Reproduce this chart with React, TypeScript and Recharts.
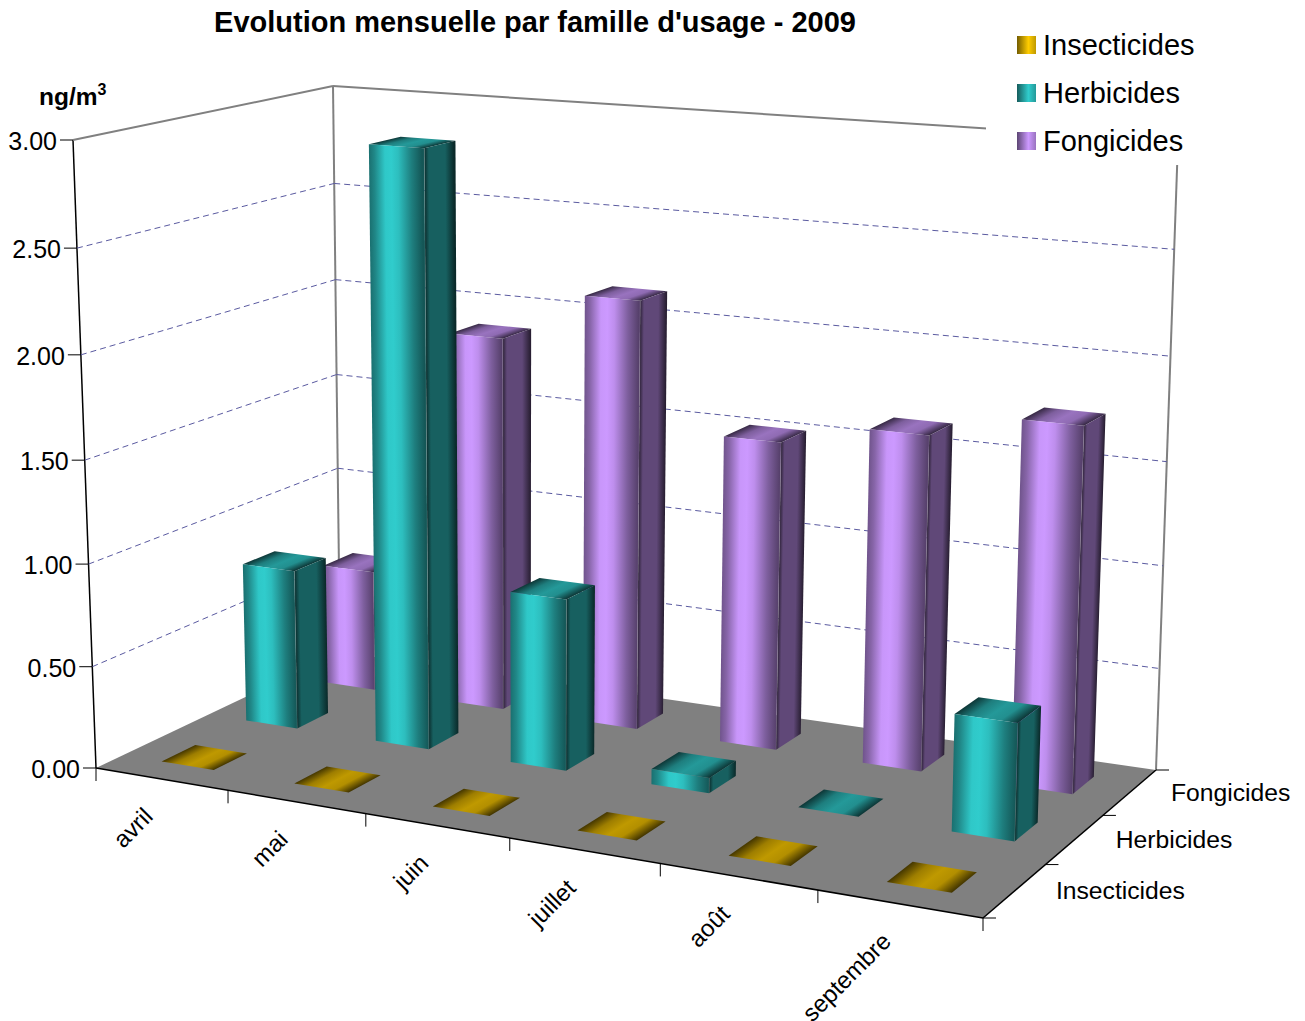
import React from "react";
import { BarChart, Bar, XAxis, YAxis, CartesianGrid, Legend } from "recharts";

const months = ["avril", "mai", "juin", "juillet", "août", "septembre"];
const insecticides = [0, 0, 0, 0, 0, 0];
const herbicides = [0.8, 2.92, 0.84, 0.075, 0, 0.55];
const fongicides = [0.62, 1.89, 2.14, 1.52, 1.63, 1.75];
const familyNames = ["Insecticides", "Herbicides", "Fongicides"];
const yTicks = [0, 0.5, 1, 1.5, 2, 2.5, 3];

const rows = months.map((month, i) => ({
  month,
  Insecticides: insecticides[i],
  Herbicides: herbicides[i],
  Fongicides: fongicides[i],
}));

const WIDTH = 1305;
const HEIGHT = 1021;
const FONT = "'Liberation Sans', Arial, sans-serif";

// The flat chart area; its pixels are normalised and re-projected onto the box.
const PLOT = { left: 100, top: 100, width: 1100, height: 800 };

type Pt = [number, number];

// Screen corners of the box: front-left, front-right, back-right, back-left.
const floorCorners: Pt[] = [[96, 768], [983, 918], [1156, 770], [340, 652]];
const ceilingCorners: Pt[] = [[73, 140], [1001, 210], [1178, 141], [333, 86]];
const HEIGHT_WARP = 0.04;

function solve(A: number[][], b: number[]): number[] {
  const n = b.length;
  const m = A.map((r, i) => [...r, b[i]]);
  for (let c = 0; c < n; c++) {
    let p = c;
    for (let r = c + 1; r < n; r++) if (Math.abs(m[r][c]) > Math.abs(m[p][c])) p = r;
    [m[c], m[p]] = [m[p], m[c]];
    for (let r = 0; r < n; r++) {
      if (r === c) continue;
      const f = m[r][c] / m[c][c];
      for (let k = c; k <= n; k++) m[r][k] -= f * m[c][k];
    }
  }
  return m.map((r, i) => r[n] / r[i]);
}

function planeMap(corners: Pt[]) {
  const uv: Pt[] = [[0, 0], [1, 0], [1, 1], [0, 1]];
  const A: number[][] = [];
  const b: number[] = [];
  uv.forEach(([u, v], i) => {
    const [x, y] = corners[i];
    A.push([u, v, 1, 0, 0, 0, -x * u, -x * v]);
    b.push(x);
    A.push([0, 0, 0, u, v, 1, -y * u, -y * v]);
    b.push(y);
  });
  const [a, bb, c, d, e, f, g, h] = solve(A, b);
  return (u: number, v: number): Pt => {
    const w = g * u + h * v + 1;
    return [(a * u + bb * v + c) / w, (d * u + e * v + f) / w];
  };
}

const floorMap = planeMap(floorCorners);
const ceilingMap = planeMap(ceilingCorners);

const project = (u: number, v: number, t: number): Pt => {
  const p = floorMap(u, v);
  const q = ceilingMap(u, v);
  const s = t / (1 + HEIGHT_WARP * (1 - t));
  return [p[0] + (q[0] - p[0]) * s, p[1] + (q[1] - p[1]) * s];
};

const toPoints = (pts: Pt[]) => pts.map((p) => p.join(",")).join(" ");
const uOf = (x: number) => (x - PLOT.left) / PLOT.width;
const tOf = (y: number) => (PLOT.top + PLOT.height - y) / PLOT.height;

const palette = [
  { name: "Fongicides", rgb: [204, 153, 255], depth: 2 },
  { name: "Herbicides", rgb: [48, 204, 204], depth: 1 },
  { name: "Insecticides", rgb: [255, 204, 0], depth: 0 },
];

const shade = (rgb: number[], k: number) => `rgb(${rgb.map((c) => Math.round(c * k)).join(",")})`;

const frontStops: [number, number][] = [[0, 0.55], [0.1, 0.66], [0.3, 0.98], [0.42, 1], [0.55, 0.93], [0.8, 0.62], [1, 0.42]];
const sideStops: [number, number][] = [[0, 0.22], [0.15, 0.47], [0.7, 0.47], [1, 0.2]];
const topStops: [number, number][] = [[0, 0.27], [0.25, 0.62], [0.5, 0.75], [0.72, 0.7], [1, 0.25]];

// A quad filled with a gradient that follows its edges: q = [a, b, c, d], running a->b across.
function Face({ id, q, stops, rgb }: { id: string; q: Pt[]; stops: [number, number][]; rgb: number[] }) {
  const [a, b, , d] = q;
  const transform = `matrix(${b[0] - a[0]},${b[1] - a[1]},${d[0] - a[0]},${d[1] - a[1]},${a[0]},${a[1]})`;
  return (
    <g>
      <defs>
        <linearGradient id={id} gradientUnits="userSpaceOnUse" x1={0} y1={0} x2={1} y2={0} gradientTransform={transform}>
          {stops.map(([o, k]) => (
            <stop key={o} offset={o} stopColor={shade(rgb, k)} />
          ))}
        </linearGradient>
      </defs>
      <polygon points={toPoints(q)} fill={`url(#${id})`} />
    </g>
  );
}

const DEPTH_HALF = 0.065;

const prism = (series: (typeof palette)[number]) => (props: any) => {
  const { x, width, height, index } = props;
  const u0 = uOf(x);
  const u1 = uOf(x + width);
  const v0 = (series.depth + 0.5) / 3 - DEPTH_HALF;
  const v1 = (series.depth + 0.5) / 3 + DEPTH_HALF;
  const t = (height || 0) / PLOT.height;
  const key = `${series.name}-${index}`;
  const fl = project(u0, v0, 0);
  const fr = project(u1, v0, 0);
  const br = project(u1, v1, 0);
  const tfl = project(u0, v0, t);
  const tfr = project(u1, v0, t);
  const tbr = project(u1, v1, t);
  const tbl = project(u0, v1, t);
  const flat = t < 0.002;
  return (
    <g>
      <Face id={`top-${key}`} q={[tfl, tfr, tbr, tbl]} stops={topStops} rgb={series.rgb} />
      {!flat && <Face id={`side-${key}`} q={[fr, br, tbr, tfr]} stops={sideStops} rgb={series.rgb} />}
      {!flat && <Face id={`front-${key}`} q={[fl, fr, tfr, tfl]} stops={frontStops} rgb={series.rgb} />}
      {!flat && <line x1={fr[0]} y1={fr[1]} x2={tfr[0]} y2={tfr[1]} stroke="rgba(255,255,255,0.2)" strokeWidth={0.6} />}
    </g>
  );
};

const seg = (a: Pt, b: Pt, stroke: string, strokeWidth: number, dash?: string) => (
  <line x1={a[0]} y1={a[1]} x2={b[0]} y2={b[1]} stroke={stroke} strokeWidth={strokeWidth} strokeDasharray={dash} />
);

// Box walls, floor and value lines: each horizontal grid position is bent along the two walls.
const wallLine = (p: any) => {
  const t = tOf(p.y1);
  const key = p.key ?? `w-${t}`;
  if (t < 0.001) {
    const a = project(0, 0, 0);
    const b = project(1, 0, 0);
    const c = project(1, 1, 0);
    const d = project(0, 1, 0);
    return (
      <g key={key}>
        <polygon points={toPoints([a, b, c, d])} fill="#808080" />
        {seg(a, b, "#000", 1.5)}
        {seg(b, c, "#000", 1.5)}
        {seg(a, project(0, 0, 1), "#000", 1.5)}
        {seg(d, project(0, 1, 1), "#808080", 2)}
        {seg(c, project(1, 1, 1), "#808080", 2)}
      </g>
    );
  }
  const a = project(0, 0, t);
  const b = project(0, 1, t);
  const c = project(1, 1, t);
  const isTop = t > 0.999;
  return (
    <g key={key}>
      {seg(a, b, isTop ? "#808080" : "#5a5aa0", isTop ? 2 : 1, isTop ? undefined : "6 4")}
      {seg(b, c, isTop ? "#808080" : "#5a5aa0", isTop ? 2 : 1, isTop ? undefined : "6 4")}
    </g>
  );
};

const ValueTick = (props: any) => {
  const t = tOf(props.y);
  const [x, y] = project(0, 0, t);
  return (
    <g>
      <line x1={x - 13} y1={y} x2={x} y2={y} stroke="#000" strokeWidth={1} />
      <text x={x - 16} y={y + 1} textAnchor="end" dominantBaseline="central" fontFamily={FONT} fontSize={25} fill="#000">
        {Number(props.payload.value).toFixed(2)}
      </text>
    </g>
  );
};

const MonthTick = (props: any) => {
  const slot = 1 / months.length;
  const u = uOf(props.x);
  const start = project(u - slot / 2, 0, 0);
  const end = project(u + slot / 2, 0, 0);
  const mid = project(u, 0, 0);
  const lx = mid[0] - 13;
  const ly = mid[1] + 33;
  return (
    <g>
      <line x1={start[0]} y1={start[1]} x2={start[0]} y2={start[1] + 13} stroke="#000" strokeWidth={1} />
      {props.index === months.length - 1 && (
        <line x1={end[0]} y1={end[1]} x2={end[0]} y2={end[1] + 13} stroke="#000" strokeWidth={1} />
      )}
      <text x={lx} y={ly} textAnchor="end" dominantBaseline="central" fontFamily={FONT} fontSize={24} fill="#000" transform={`rotate(-45 ${lx} ${ly})`}>
        {props.payload.value}
      </text>
    </g>
  );
};

const FamilyLegend = (props: any) => {
  const items = [...(props.payload ?? [])].reverse();
  return (
    <div style={{ background: "#fff", width: 214, height: 145, position: "relative" }}>
      {items.map((it: any, i: number) => {
        const s = palette.find((p) => p.name === it.value)!;
        return (
          <div key={it.value} style={{ position: "absolute", left: 31, top: 1 + i * 48, height: 48, display: "flex", alignItems: "center", fontFamily: FONT, fontSize: 29, color: "#000", lineHeight: "48px" }}>
            <span style={{ width: 19, height: 18, marginRight: 7, display: "inline-block", background: `linear-gradient(90deg, ${shade(s.rgb, 0.45)}, ${shade(s.rgb, 1)} 60%, ${shade(s.rgb, 0.75)})` }} />
            {it.value}
          </div>
        );
      })}
    </div>
  );
};

export default function App() {
  const axisThickness = 1;
  const plotRight = WIDTH - PLOT.left - PLOT.width;
  const plotBottom = HEIGHT - PLOT.top - PLOT.height;
  return (
    <div style={{ position: "absolute", left: 0, top: 0, width: WIDTH, height: HEIGHT, overflow: "hidden", background: "#fff" }}>
      <BarChart
        width={WIDTH}
        height={HEIGHT}
        data={rows}
        margin={{ left: PLOT.left - axisThickness, top: PLOT.top, right: plotRight, bottom: plotBottom - axisThickness }}
        barCategoryGap="30%"
        barGap="-40%"
      >
        <CartesianGrid vertical={false} horizontal={wallLine} stroke="none" />
        <XAxis dataKey="month" height={axisThickness} interval={0} axisLine={false} tickLine={false} tick={MonthTick} />
        <YAxis type="number" domain={[0, 3]} ticks={yTicks} width={axisThickness} interval={0} axisLine={false} tickLine={false} tick={ValueTick} />
        {palette.map((s) => (
          <Bar key={s.name} dataKey={s.name} fill={shade(s.rgb, 1)} isAnimationActive={false} shape={prism(s)} />
        ))}
        <Legend
          layout="vertical"
          align="center"
          verticalAlign="middle"
          content={FamilyLegend}
          wrapperStyle={{ left: 986, top: 20, width: 214, height: 145, margin: 0 }}
        />
        <text x={535} y={22} textAnchor="middle" dominantBaseline="central" fontFamily={FONT} fontWeight="bold" fontSize={29} fill="#000">
          Evolution mensuelle par famille d'usage - 2009
        </text>
        <text x={39} y={105} fontFamily={FONT} fontWeight="bold" fontSize={24.5} fill="#000">
          ng/m
          <tspan dy={-10} fontSize={16}>3</tspan>
        </text>
        {familyNames.map((name, i) => {
          const [x, y] = project(1, (i + 0.5) / 3, 0);
          return (
            <text key={name} x={x + 41} y={y} dominantBaseline="central" fontFamily={FONT} fontSize={24.7} fill="#000">
              {name}
            </text>
          );
        })}
        {[0, 1, 2, 3].map((i) => {
          const [x, y] = project(1, i / 3, 0);
          return <line key={i} x1={x} y1={y} x2={x + 13} y2={y} stroke="#000" strokeWidth={1} />;
        })}
      </BarChart>
    </div>
  );
}
